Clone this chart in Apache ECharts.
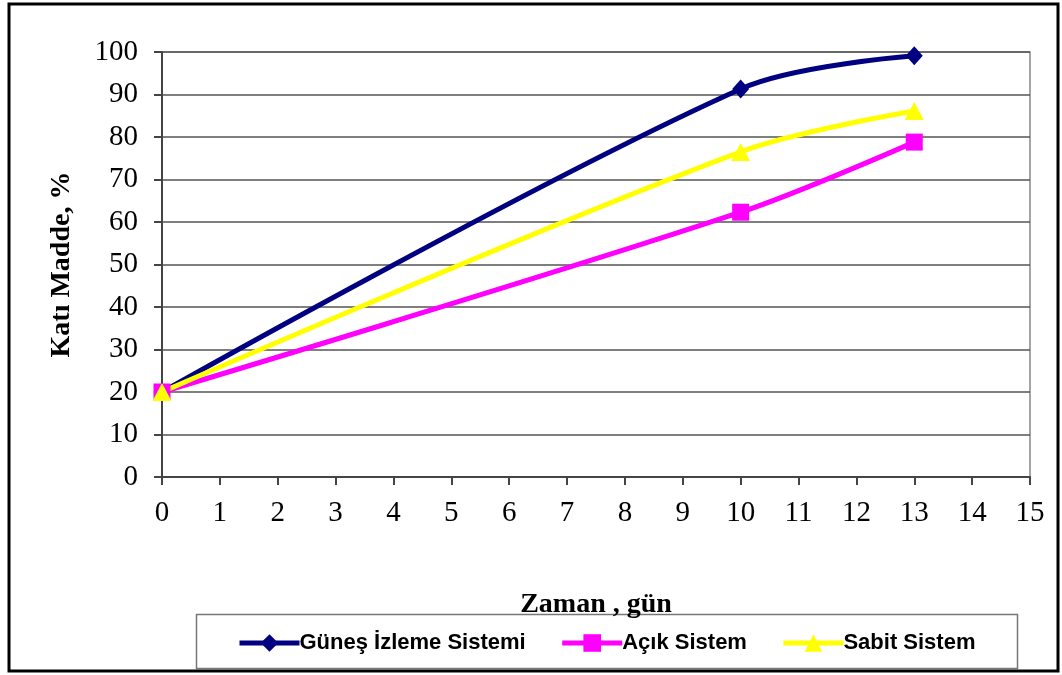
<!DOCTYPE html>
<html>
<head>
<meta charset="utf-8">
<script src="https://cdn.jsdelivr.net/npm/echarts@6/dist/echarts.min.js"></script>
<style>
  html, body { margin: 0; padding: 0; background: #fff; }
  #chart { width: 1062px; height: 675px; }
</style>
</head>
<body>
<div id="chart"></div>
<script>
// Measurement days
const days = [0, 10, 13];
// Solid matter (%) per drying system
const gunesIzleme = [20, 91.3, 99.1];
const acikSistem = [20, 62.3, 78.8];
const sabitSistem = [20, 76.5, 86.1];
const seriesNames = ['Güneş İzleme Sistemi', 'Açık Sistem', 'Sabit Sistem'];

const pairs = (vals) => days.map((d, i) => [d, vals[i]]);

const serif = '"Liberation Serif", "Times New Roman", serif';
const sans = '"Liberation Sans", Arial, sans-serif';

const chart = echarts.init(document.getElementById('chart'), null, { renderer: 'canvas' });

function lineSeries(name, vals, color, symbol, size) {
  return {
    name: name,
    type: 'line',
    data: pairs(vals),
    smooth: 0.33,
    symbol: symbol,
    symbolSize: size,
    showAllSymbol: true,
    lineStyle: { color: color, width: 5 },
    itemStyle: { color: color, borderWidth: 0 },
    emphasis: { disabled: true },
    animation: false
  };
}

chart.setOption({
  animation: false,
  backgroundColor: '#fff',
  graphic: [
    {
      type: 'rect',
      shape: { x: 9, y: 4, width: 1049, height: 667 },
      style: { fill: 'none', stroke: '#000', lineWidth: 3 },
      silent: true
    },
    {
      type: 'rect',
      shape: { x: 196.5, y: 614.5, width: 821, height: 54 },
      style: { fill: '#fff', stroke: '#777', lineWidth: 1.5 },
      silent: true,
      z: -1
    }
  ],
  grid: {
    left: 162, right: 32, top: 52, bottom: 198,
    show: true, borderColor: '#888', borderWidth: 1.5, backgroundColor: 'transparent'
  },
  legend: {
    data: seriesNames,
    left: 232,
    top: 627,
    itemWidth: 60,
    itemHeight: 22,
    itemGap: 34,
    lineStyle: { width: 5 },
    textStyle: { fontFamily: sans, fontWeight: 'bold', fontSize: 22, color: '#000', padding: [0, 0, 0, -5] },
    selectedMode: false
  },
  xAxis: {
    type: 'value',
    min: 0, max: 15, interval: 1,
    name: 'Zaman , gün',
    nameLocation: 'middle',
    nameGap: 114,
    nameTextStyle: { fontFamily: serif, fontWeight: 'bold', fontSize: 28, color: '#000' },
    axisLine: { show: true, lineStyle: { color: '#444', width: 2 } },
    axisTick: { show: true, inside: false, length: 8, lineStyle: { color: '#444', width: 2 } },
    axisLabel: { fontFamily: serif, fontSize: 29, color: '#000', margin: 22 },
    splitLine: { show: false }
  },
  yAxis: {
    type: 'value',
    min: 0, max: 100, interval: 10,
    name: 'Katı Madde, %',
    nameLocation: 'middle',
    nameGap: 86,
    nameRotate: 90,
    nameTextStyle: { fontFamily: serif, fontWeight: 'bold', fontSize: 28, color: '#000' },
    axisLine: { show: true, lineStyle: { color: '#444', width: 2 } },
    axisTick: { show: true, inside: false, length: 8, lineStyle: { color: '#444', width: 2 } },
    axisLabel: { fontFamily: serif, fontSize: 29, color: '#000', margin: 24 },
    splitLine: { show: true, lineStyle: { color: '#555', width: 1.5 } }
  },
  series: [
    lineSeries(seriesNames[0], gunesIzleme, '#000080', 'diamond', [17, 19]),
    lineSeries(seriesNames[1], acikSistem, '#FF00FF', 'rect', 17),
    lineSeries(seriesNames[2], sabitSistem, '#FFFF00', 'triangle', [19, 18])
  ]
});
</script>
</body>
</html>
